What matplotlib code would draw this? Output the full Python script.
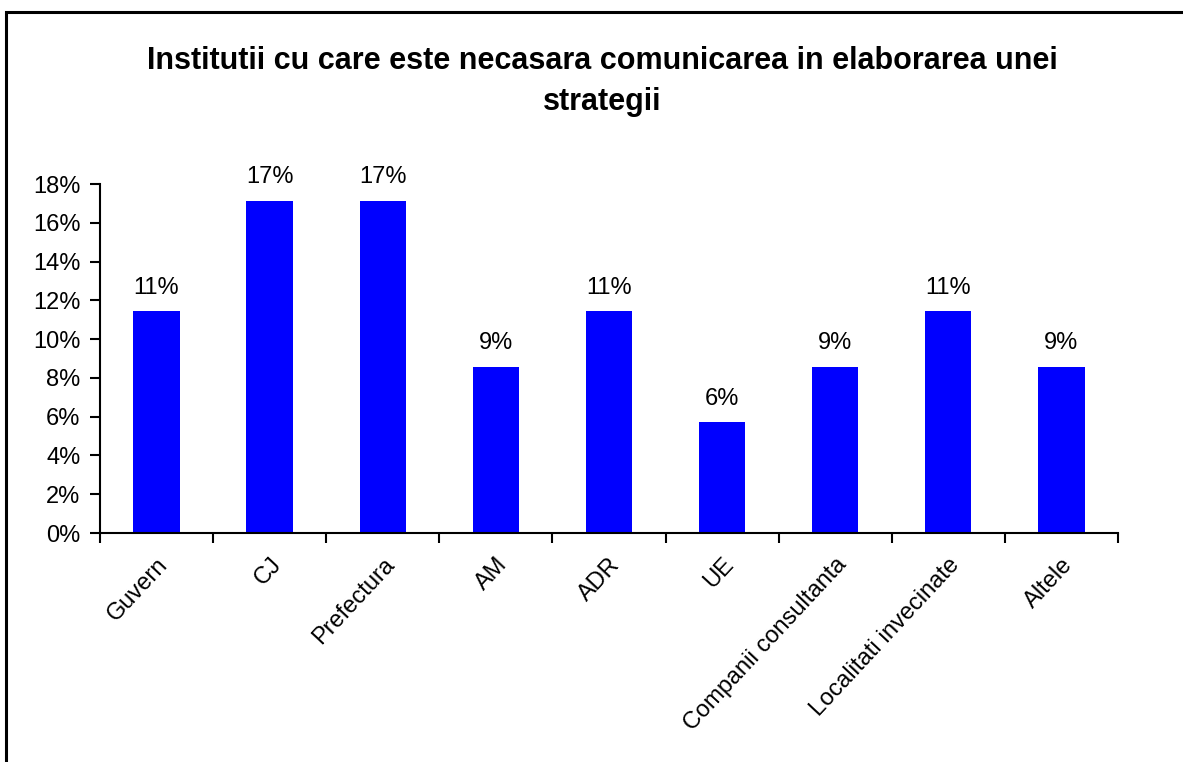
"""bar chart: institutions to communicate with when drafting a strategy"""

import matplotlib.pyplot as plt
from matplotlib.patches import Rectangle
from matplotlib.ticker import FuncFormatter, MultipleLocator

plt.rcParams["font.family"] = ["Liberation Sans", "DejaVu Sans"]

TITLE = "Institutii cu care este necasara comunicarea in elaborarea unei\nstrategii"

categories = [
    "Guvern",
    "CJ",
    "Prefectura",
    "AM",
    "ADR",
    "UE",
    "Companii consultanta",
    "Localitati invecinate",
    "Altele",
]
# shares of answers (fractions)
shares = [0.1143, 0.1714, 0.1714, 0.0857, 0.1143, 0.0571, 0.0857, 0.1143, 0.0857]
bar_labels = ["11%", "17%", "17%", "9%", "11%", "6%", "9%", "11%", "9%"]


def main() -> None:
    fig = plt.figure(figsize=(11.83, 7.62), dpi=100)
    ax = fig.add_axes([0.0845, 0.3005, 0.8605, 0.458])

    x = list(range(len(categories)))
    bars = ax.bar(x, shares, width=0.41, color="#0000ff", zorder=2)
    for bar, lab in zip(bars, bar_labels):
        ax.annotate(lab, (bar.get_x() + bar.get_width() / 2, bar.get_height()),
                    xytext=(0, 9), textcoords="offset points",
                    ha="center", va="bottom", fontsize=17)

    ax.set_xlim(-0.5, len(categories) - 0.5)
    ax.set_ylim(0, 0.18)
    ax.yaxis.set_major_locator(MultipleLocator(0.02))
    ax.yaxis.set_major_formatter(FuncFormatter(lambda v, _: f"{v * 100:.0f}%"))

    # ticks at category boundaries, labels at category centres
    ax.set_xticks([i - 0.5 for i in range(len(categories) + 1)])
    ax.set_xticklabels([])
    ax.set_xticks(x, minor=True)
    ax.set_xticklabels(categories, minor=True, rotation=47, ha="right", va="top",
                       rotation_mode="anchor", fontsize=17)
    ax.tick_params(axis="x", which="minor", length=0, pad=15)
    ax.tick_params(axis="x", which="major", direction="out", length=7, width=1.5)
    ax.tick_params(axis="y", direction="out", length=7, width=1.5, labelsize=17, pad=7)

    for side in ("top", "right"):
        ax.spines[side].set_visible(False)
    for side in ("left", "bottom"):
        ax.spines[side].set_linewidth(1.5)

    fig.text(0.509, 0.893, TITLE, ha="center", va="center", fontsize=22,
             fontweight="bold", linespacing=1.48)

    # outer chart border, cut off on the right and bottom as in the source
    fig.patches.append(Rectangle((6 / 1183, -0.05), 1.2, 1 - 12 / 762 + 0.05,
                                 transform=fig.transFigure, fill=False,
                                 edgecolor="black", linewidth=2.2))

    fig.savefig("out.png", dpi=100)
    plt.close(fig)


if __name__ == "__main__":
    main()
